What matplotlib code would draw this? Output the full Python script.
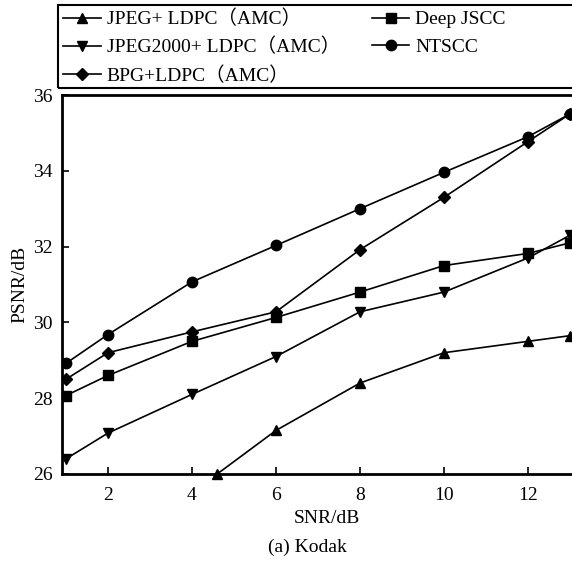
import matplotlib
matplotlib.use("Agg")
import matplotlib.pyplot as plt
from matplotlib.patches import Rectangle

plt.rcParams['font.family'] = ['Liberation Serif', 'Noto Sans CJK SC', 'DejaVu Sans']
plt.rcParams['mathtext.fontset'] = 'stix'

snr = [1, 2, 4, 6, 8, 10, 12, 13]
jpeg_x = [4.6, 6, 8, 10, 12, 13]
jpeg = [26.0, 27.15, 28.4, 29.2, 29.5, 29.65]
jpeg2000 = [26.4, 27.08, 28.1, 29.1, 30.28, 30.8, 31.7, 32.3]
bpg = [28.5, 29.2, 29.75, 30.28, 31.92, 33.3, 34.77, 35.5]
deepjscc = [28.07, 28.6, 29.5, 30.13, 30.8, 31.5, 31.82, 32.1]
ntscc = [28.92, 29.68, 31.07, 32.03, 33.0, 33.96, 34.9, 35.5]

labels = ['JPEG+ LDPC（AMC）', 'JPEG2000+ LDPC（AMC）', 'BPG+LDPC（AMC）', 'Deep JSCC', 'NTSCC']
xticks = [2, 4, 6, 8, 10, 12]
yticks = [26, 28, 30, 32, 34, 36]

W, H = 572, 564
fig = plt.figure(figsize=(W / 100, H / 100), dpi=100)
ax = fig.add_axes([62 / W, 90 / H, 529 / W, 379 / H])

kw = dict(color='black', lw=1.2, ms=7)
h1, = ax.plot(jpeg_x, jpeg, marker='^', clip_on=False, **kw)
h2, = ax.plot(snr, jpeg2000, marker='v', **kw)
h3, = ax.plot(snr, bpg, marker='D', **{**kw, 'ms': 6})
h4, = ax.plot(snr, deepjscc, marker='s', **{**kw, 'ms': 6.5})
h5, = ax.plot(snr, ntscc, marker='o', **{**kw, 'ms': 7.5})

ax.set_xlim(0.905, 13.5)
ax.set_ylim(26, 36)
ax.set_xticks(xticks)
ax.set_yticks(yticks)
ax.tick_params(direction='in', length=5, width=1.2, labelsize=14)
ax.tick_params(axis='x', pad=9)
ax.tick_params(axis='y', pad=7)
for s in ax.spines.values():
    s.set_linewidth(2)
ax.set_xlabel('SNR/dB', fontsize=14, labelpad=5)
ax.set_ylabel('PSNR/dB', fontsize=14, labelpad=3)
fig.text(307 / W, 1 - 547 / H, '(a) Kodak', fontsize=14, ha='center', va='center')

leg = fig.legend([h1, h2, h3, h4, h5], labels, ncol=2, loc='upper left',
                 bbox_to_anchor=(58 / W, 1 - 5 / H), fontsize=14,
                 frameon=False,
                 handlelength=1.95, handletextpad=0.3, columnspacing=1.63,
                 labelspacing=0.5, borderpad=0.25, borderaxespad=0)

# legend frame extending past the right edge, as in the reference
fig.patches.append(Rectangle((58 / W, 1 - 88 / H), 560 / W, 83 / H,
                             transform=fig.transFigure, fill=False,
                             edgecolor='black', lw=1.5))

fig.savefig('out.png', dpi=100)
